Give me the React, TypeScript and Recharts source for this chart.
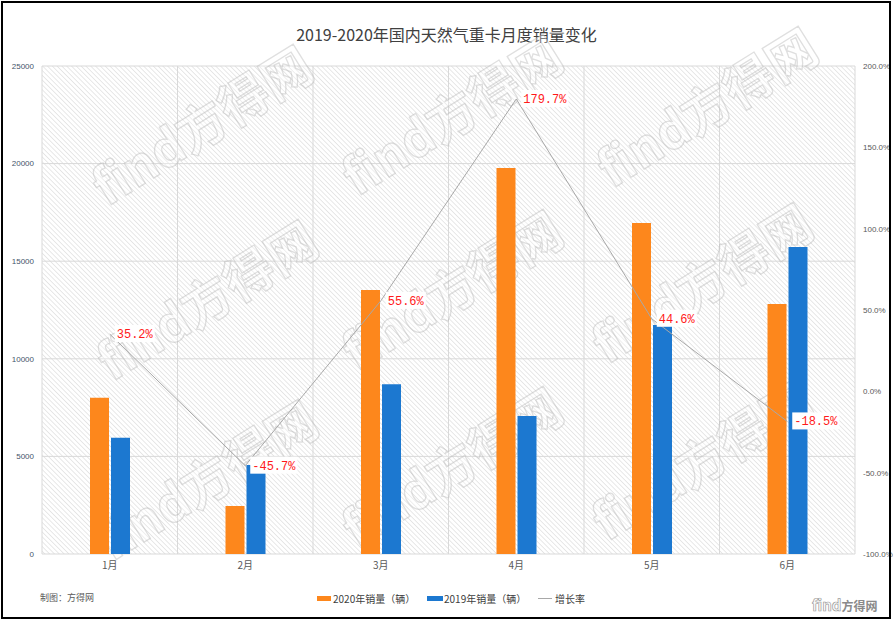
import React from 'react';
import { ComposedChart, Bar, Line, XAxis, YAxis, CartesianGrid, Customized } from 'recharts';

// monthly sales
const months = ['1月', '2月', '3月', '4月', '5月', '6月'];
const sales2020 = [8000, 2460, 13530, 19780, 16960, 12810];
const sales2019 = [5950, 4560, 8700, 7070, 11730, 15730];
const growth = [35.2, -45.7, 55.6, 179.7, 44.6, -18.5];

const leftTicks = [0, 5000, 10000, 15000, 20000, 25000];
const rightTicks = [-100, -50, 0, 50, 100, 150, 200];

const data = months.map((m, i) => ({
  month: m,
  s2020: sales2020[i],
  s2019: sales2019[i],
  rate: growth[i],
}));

const ORANGE = '#fd871c';
const BLUE = '#1c78d0';
const GRAY_LINE = '#a8a8a8';
const CJK = '"Noto Sans CJK SC", "Noto Sans", sans-serif';

// watermark centres (approx.)
const marks = [
  [205, 130], [455, 120], [710, 112],
  [210, 305], [455, 295], [705, 288],
  [210, 485], [455, 472], [705, 465],
];

const Watermark = () => (
  <g pointerEvents="none">
    {marks.map(([cx, cy], i) => (
      <text
        key={i}
        x={cx}
        y={cy}
        textAnchor="middle"
        dominantBaseline="middle"
        transform={`rotate(-32 ${cx} ${cy})`}
        fontSize={50}
        fontWeight="bold"
        fontFamily={CJK}
        fill="#fff"
        fillOpacity={0.3}
        stroke="#b0b0b0"
        strokeOpacity={0.4}
        strokeWidth={1.3}
      >
        find方得网
      </text>
    ))}
  </g>
);

const RateLabel = (props: any) => {
  const { x, y, value } = props;
  if (x == null || y == null) return null;
  const txt = `${Number(value).toFixed(1)}%`;
  const w = txt.length * 7.2 + 4;
  return (
    <g>
      <rect x={x + 5} y={y - 9} width={w} height={17} fill="#fff" />
      <text x={x + 7} y={y + 4} fill="#ff1a1a" fontSize={12} fontFamily='"Liberation Mono", monospace'>
        {txt}
      </text>
    </g>
  );
};

const boundaryLines = ({ offset }: any) => {
  const out: number[] = [];
  for (let i = 0; i <= months.length; i++) {
    out.push(offset.left + (offset.width * i) / months.length);
  }
  return out;
};

export default function App() {
  return (
    <div style={{ position: 'fixed', left: 0, top: 0, width: 893, height: 621, background: '#fff', overflow: 'hidden' }}>
      <svg width={0} height={0} style={{ position: 'absolute' }}>
        <defs>
          <pattern id="hatch" patternUnits="userSpaceOnUse" width={3.4} height={3.4} patternTransform="rotate(-45)">
            <rect width={3.4} height={3.4} fill="#fff" />
            <line x1={0} y1={0} x2={0} y2={3.4} stroke="#d2d2d2" strokeWidth={1} />
          </pattern>
        </defs>
      </svg>

      <div style={{ position: 'absolute', left: 0, top: 22, width: 893, textAlign: 'center', fontFamily: CJK, fontSize: 16, color: '#404040' }}>
        2019-2020年国内天然气重卡月度销量变化
      </div>

      <ComposedChart
        width={893}
        height={621}
        data={data}
        margin={{ top: 66, right: 0, bottom: 47, left: 0 }}
        barSize={19}
        barGap={2}
      >
        <CartesianGrid
          stroke="#d9d9d9"
          fill="url(#hatch)"
          fillOpacity={1}
          yAxisId="left"
          verticalCoordinatesGenerator={boundaryLines}
        />
        <XAxis
          dataKey="month"
          height={20}
          tickLine={false}
          axisLine={false}
          tick={{ fontSize: 10, fill: '#595959', fontFamily: CJK }}
        />
        <YAxis
          yAxisId="left"
          width={42}
          domain={[0, 25000]}
          ticks={leftTicks}
          tickLine={false}
          axisLine={false}
          tick={{ fontSize: 8, fill: '#44546a', fontFamily: 'Arial, "Liberation Sans", sans-serif' }}
        />
        <YAxis
          yAxisId="right"
          orientation="right"
          width={38}
          domain={[-100, 200]}
          ticks={rightTicks}
          tickFormatter={(v: number) => `${v.toFixed(1)}%`}
          tickLine={false}
          axisLine={false}
          tick={{ fontSize: 8, fill: '#595959', fontFamily: 'Arial, "Liberation Sans", sans-serif', textAnchor: 'start' }}
        />
        <Bar yAxisId="left" dataKey="s2020" fill={ORANGE} isAnimationActive={false} />
        <Bar yAxisId="left" dataKey="s2019" fill={BLUE} isAnimationActive={false} />
        <Customized component={<Watermark />} />
        <Line
          yAxisId="right"
          dataKey="rate"
          stroke={GRAY_LINE}
          strokeWidth={1}
          dot={false}
          isAnimationActive={false}
          label={<RateLabel />}
        />
      </ComposedChart>

      {/* legend */}
      <div style={{ position: 'absolute', top: 591, left: 0, width: 893, height: 16, fontFamily: CJK, fontSize: 10, color: '#404040' }}>
        <div style={{ position: 'absolute', left: 317, top: 5, width: 14, height: 5, background: ORANGE }} />
        <div style={{ position: 'absolute', left: 333, top: 0 }}>2020年销量（辆）</div>
        <div style={{ position: 'absolute', left: 427, top: 5, width: 16, height: 5, background: BLUE }} />
        <div style={{ position: 'absolute', left: 444, top: 0 }}>2019年销量（辆）</div>
        <div style={{ position: 'absolute', left: 538, top: 7, width: 14, height: 1, background: GRAY_LINE }} />
        <div style={{ position: 'absolute', left: 555, top: 0 }}>增长率</div>
      </div>

      <div style={{ position: 'absolute', left: 40, top: 591, fontFamily: CJK, fontSize: 9, color: '#595959' }}>制图：方得网</div>

      <div style={{ position: 'absolute', left: 812, top: 596, fontFamily: CJK, fontSize: 15, fontWeight: 'bold', lineHeight: '18px' }}>
        <span style={{ color: '#fff', WebkitTextStroke: '0.7px #9a9a9a' }}>find</span>
        <span style={{ color: '#8a8a8a', fontSize: 12 }}>方得网</span>
      </div>

      <div style={{ position: 'absolute', left: 1, top: 1, width: 890, height: 618, border: '2px solid #000', boxSizing: 'border-box', pointerEvents: 'none' }} />
    </div>
  );
}
